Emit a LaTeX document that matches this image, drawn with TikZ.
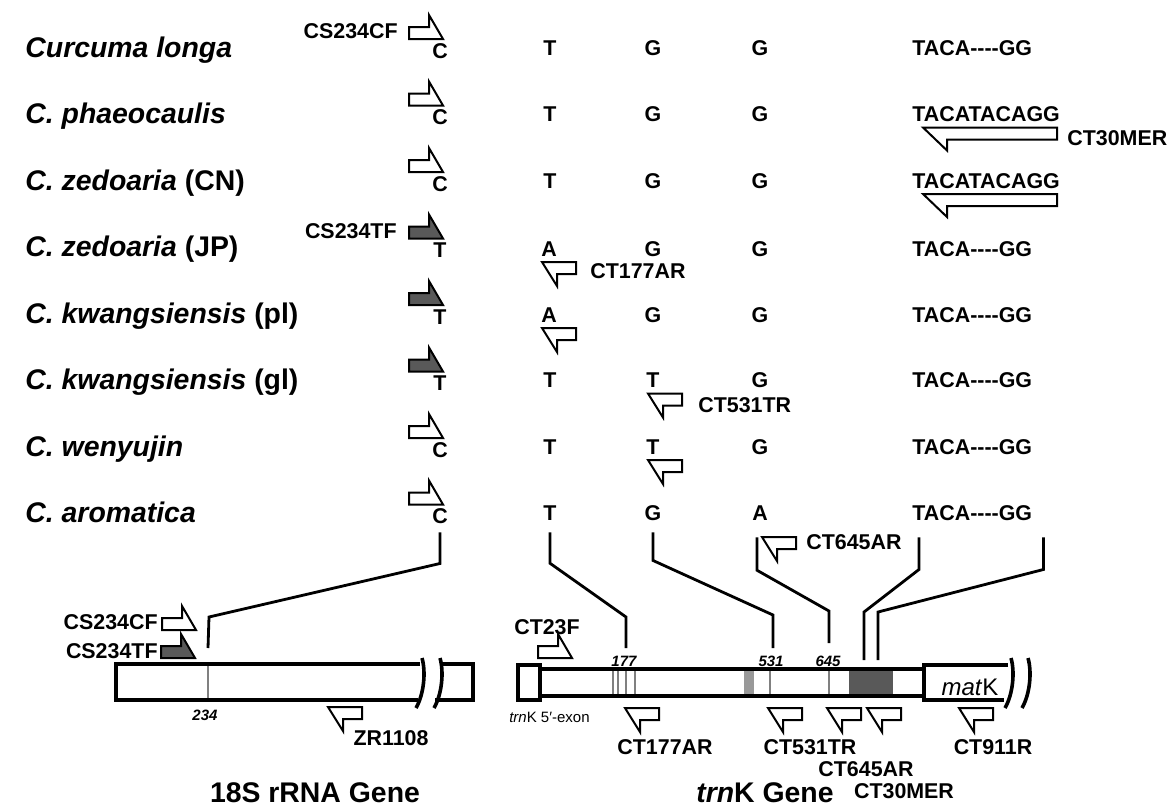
\documentclass[tikz,border=0pt]{standalone}
\usepackage{fontspec}
\setmainfont{Liberation Sans}
\usetikzlibrary{positioning}

\newcommand{\gapseq}{TACA-{}-{}-{}-GG}

\begin{document}
\begin{tikzpicture}[x=0.5pt, y=-0.5pt, line join=miter,
      sp/.style={anchor=base west, inner sep=0pt, font=\fontsize{14.2}{16}\selectfont\bfseries\itshape},
      nt/.style={inner sep=0pt, font=\fontsize{10.7}{12}\selectfont\bfseries},
      plab/.style={inner sep=0pt, font=\fontsize{10.7}{12}\selectfont\bfseries},
      sitenum/.style={inner sep=0pt, font=\fontsize{7.5}{9}\selectfont\bfseries\itshape},
      ttl/.style={inner sep=0pt, font=\fontsize{14.2}{16}\selectfont\bfseries},
      link/.style={line width=1.4pt},
      gene/.style={line width=2.3pt},
      brk/.style={line width=1.8pt},
      sitemark/.style={gray, line width=0.6pt},
      primer/.style={line width=1pt, fill=white},
      tprimer/.style={line width=1pt, fill=black!65},
      fwd/.pic={\draw[primer] (0,0) -- (0,-12) -- (20,-12) -- (20,-24) -- (34,0) -- cycle;},
      fwdt/.pic={\draw[tprimer] (0,0) -- (0,-12) -- (20,-12) -- (20,-24) -- (34,0) -- cycle;},
      rev/.pic={\draw[primer] (0,0) -- (34,0) -- (34,12) -- (15,12) -- (15,24) -- cycle;},
      revlong/.pic={\draw[primer] (0,0) -- (134,0) -- (134,12) -- (24,12) -- (24,23) -- cycle;}]

    \useasboundingbox (0,0) rectangle (1170,809);

    % species
    \node[sp] (s1) at (25,57)    {Curcuma longa};
    \node[sp] (s2) at (25,123.5) {C. phaeocaulis};
    \node[sp] (s3) at (25,190)   {C. zedoaria {\upshape (CN)}};
    \node[sp] (s4) at (25,256.5) {C. zedoaria {\upshape (JP)}};
    \node[sp] (s5) at (25,323)   {C. kwangsiensis {\upshape (pl)}};
    \node[sp] (s6) at (25,389.5) {C. kwangsiensis {\upshape (gl)}};
    \node[sp] (s7) at (25,456)   {C. wenyujin};
    \node[sp] (s8) at (25,522.5) {C. aromatica};

    % 18S site 234 with forward primers
    \foreach \y in {39,105.5,172,438,504.5} \pic at (409,\y) {fwd};
    \foreach \y in {238.5,305,371.5} \pic at (409,\y) {fwdt};
    \node[plab, anchor=east] (cs234cf) at (398,31)  {CS234CF};
    \node[plab, anchor=east] (cs234tf) at (397,231) {CS234TF};

    \node[nt] (c11) at (440,51)    {C};
    \node[nt] (c21) at (440,117.5) {C};
    \node[nt] (c31) at (440,184)   {C};
    \node[nt] (c41) at (440,250.5) {T};
    \node[nt] (c51) at (440,317)   {T};
    \node[nt] (c61) at (440,383.5) {T};
    \node[nt] (c71) at (440,450)   {C};
    \node[nt] (c81) at (440,516.5) {C};

    % trnK sites 177 / 531 / 645
    \node[nt] (c12) at (550,48)    {T};  \node[nt] (c13) at (653,48)    {G};  \node[nt] (c14) at (760,48)    {G};
    \node[nt] (c22) at (550,114.5) {T};  \node[nt] (c23) at (653,114.5) {G};  \node[nt] (c24) at (760,114.5) {G};
    \node[nt] (c32) at (550,181)   {T};  \node[nt] (c33) at (653,181)   {G};  \node[nt] (c34) at (760,181)   {G};
    \node[nt] (c42) at (549,249)   {A};  \node[nt] (c43) at (653,249)   {G};  \node[nt] (c44) at (760,249)   {G};
    \node[nt] (c52) at (549,315)   {A};  \node[nt] (c53) at (653,315)   {G};  \node[nt] (c54) at (760,315)   {G};
    \node[nt] (c62) at (550,380.5) {T};  \node[nt] (c63) at (653,380.5) {T};  \node[nt] (c64) at (760,380.5) {G};
    \node[nt] (c72) at (550,447)   {T};  \node[nt] (c73) at (653,447)   {T};  \node[nt] (c74) at (760,447)   {G};
    \node[nt] (c82) at (550,513.5) {T};  \node[nt] (c83) at (653,513.5) {G};  \node[nt] (c84) at (760,513.5) {A};

    \pic at (542,262) {rev};
    \pic at (542,328) {rev};
    \pic at (648,393.5) {rev};
    \pic at (648,460)   {rev};
    \pic at (762,537)   {rev};
    \node[plab, anchor=west] (ct177ar) at (590,271) {CT177AR};
    \node[plab, anchor=west] (ct531tr) at (698,405) {CT531TR};
    \node[plab, anchor=west] (ct645ar) at (806,542) {CT645AR};

    % insertion region
    \node[nt, anchor=west] (c15) at (912,48)    {\gapseq};
    \node[nt, anchor=west] (c25) at (912,114.5) {TACATACAGG};
    \node[nt, anchor=west] (c35) at (912,181)   {TACATACAGG};
    \node[nt, anchor=west] (c45) at (912,249)   {\gapseq};
    \node[nt, anchor=west] (c55) at (912,315)   {\gapseq};
    \node[nt, anchor=west] (c65) at (912,380.5) {\gapseq};
    \node[nt, anchor=west] (c75) at (912,447)   {\gapseq};
    \node[nt, anchor=west] (c85) at (912,513.5) {\gapseq};
    \pic at (923,127.5) {revlong};
    \pic at (923,194)   {revlong};
    \node[plab, anchor=west] (ct30mer) at (1067,138) {CT30MER};

    % 18S rRNA gene
    \draw[gene] (420,664) -- (116,664) -- (116,700) -- (418,700);
    \draw[brk] (422,658) .. controls (426,672) and (424,694) .. (416,708);
    \draw[gene] (440,664) -- (473,664) -- (473,700) -- (435,700);
    \draw[brk] (440,658) .. controls (444,672) and (442,694) .. (434,708);
    \coordinate (m234) at (208,648);
    \draw[sitemark] (208,666) -- (208,698);
    \node[sitenum] (n234) at (205,715) {234};
    \pic at (162,630) {fwd};
    \pic at (161,658) {fwdt};
    \node[plab, anchor=east] (cs234cf2) at (158,622) {CS234CF};
    \node[plab, anchor=east] (cs234tf2) at (158,651) {CS234TF};
    \pic at (328,707) {rev};
    \node[plab] (zr1108) at (391,738) {ZR1108};
    \node[ttl] (t18s) at (315,793) {18S rRNA Gene};

    % trnK gene
    \draw[gene] (518,665) rectangle (540,700);
    \draw[gene] (540,669) -- (924,669) (540,696) -- (924,696);
    \fill[black!40] (744,671) rectangle (754,694);
    \fill[black!65] (849,671) rectangle (893,694);
    \foreach \x in {613,618,626,635,770,829} \draw[sitemark] (\x,671) -- (\x,694);
    \draw[gene] (1008,665) -- (924,665) -- (924,700) -- (1004,700);
    \draw[brk] (1011,658) .. controls (1015,672) and (1013,694) .. (1005,708);
    \draw[brk] (1028,658) .. controls (1032,672) and (1030,694) .. (1022,708);
    \node[inner sep=0pt, font=\fontsize{12}{14}\selectfont] (matk) at (970,687) {\textit{mat}K};
    \node[inner sep=0pt, anchor=east, font=\fontsize{7.5}{9}\selectfont] (exon) at (590,717) {\textit{trn}K 5′-exon};
    \coordinate (m177) at (626,648);
    \coordinate (m531) at (773,648);
    \coordinate (m645) at (829,643);
    \coordinate (m30a) at (864,660);
    \coordinate (m30b) at (878,660);
    \node[sitenum] (n177) at (624,661) {177};
    \node[sitenum] (n531) at (771,661) {531};
    \node[sitenum] (n645) at (828,661) {645};

    \pic at (538,658) {fwd};
    \node[plab] (ct23f) at (547,627) {CT23F};
    \pic at (625,708) {rev};
    \pic at (768,708) {rev};
    \pic at (827,708) {rev};
    \pic at (867,708) {rev};
    \pic at (959,708) {rev};
    \node[plab] (ct177ar2) at (665,747) {CT177AR};
    \node[plab] (ct531tr2) at (810,747) {CT531TR};
    \node[plab] (ct645ar2) at (866,769) {CT645AR};
    \node[plab] (ct30mer2) at (904,791) {CT30MER};
    \node[plab] (ct911r)   at (993,747) {CT911R};
    \node[ttl] (ttrnk) at (765,793) {\textit{trn}K Gene};

    % links from sites to genes
    \draw[link] (c81.south) ++(0,8) -- ++(0,31) -- (209,617) -- (m234);
    \draw[link] (c82.south) ++(0,11) -- ++(0,31) -- (626,617) -- (m177);
    \draw[link] (c83.south) ++(0,11) -- ++(0,28) -- (773,615) -- (m531);
    \draw[link] (c84.south) ++(-3,16) -- ++(0,33) -- (829,611) -- (m645);
    \draw[link] (c85.south west) ++(7,16) -- ++(0,32) -- (864,612) -- (m30a);
    \draw[link] (c85.south east) ++(11,16) -- ++(0,32) -- (878,612) -- (m30b);

\end{tikzpicture}
\end{document}
